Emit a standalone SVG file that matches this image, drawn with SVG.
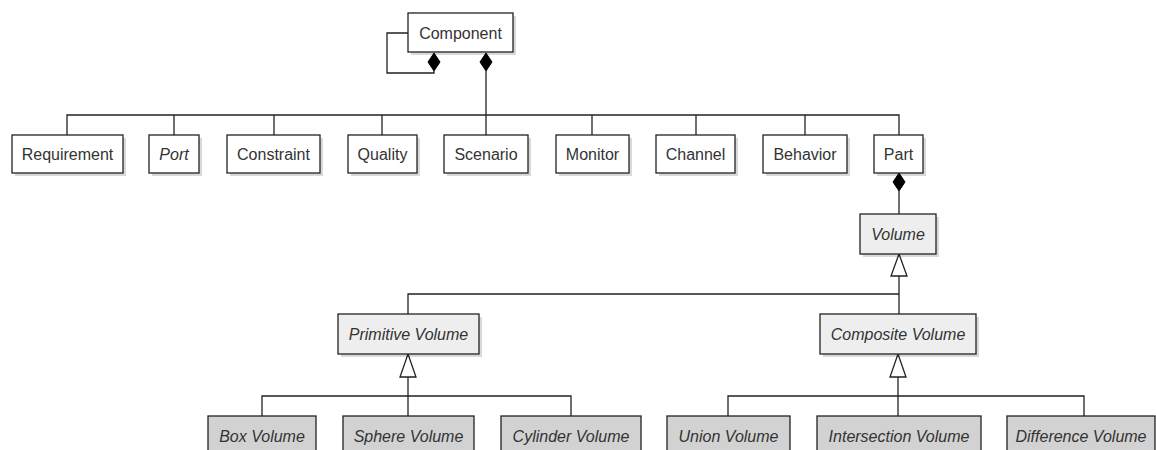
<svg xmlns="http://www.w3.org/2000/svg" width="1156" height="450" viewBox="0 0 1156 450">
  <style>
    .box { stroke: #222; stroke-width: 1.3; }
    .plain { fill: #ffffff; }
    .abstract { fill: #eeeeee; }
    .leaf { fill: #d2d2d2; }
    .shadow { fill: #000; opacity: 0.15; }
    text { font-family: "Liberation Sans", Arial, sans-serif; font-size: 16px; fill: #333; text-anchor: middle; dominant-baseline: central; }
    .it { font-style: italic; }
    .edge { fill: none; stroke: #222; stroke-width: 1.3; }
    .diamond { fill: #000; stroke: #000; stroke-width: 1; }
    .tri { fill: #fff; stroke: #222; stroke-width: 1.3; }
  </style>
  <rect width="1156" height="450" fill="#ffffff"/>

  <!-- connectors -->
  <g id="connectors">
    <!-- self composition on Component -->
    <polyline class="edge" points="408,33 387,33 387,73 434,73 434,71"/>
    <!-- Component composition bus -->
    <line class="edge" x1="486" y1="71" x2="486" y2="115"/>
    <polyline class="edge" points="67,135 67,115 899,115 899,135"/>
    <line class="edge" x1="174" y1="115" x2="174" y2="135"/>
    <line class="edge" x1="274" y1="115" x2="274" y2="135"/>
    <line class="edge" x1="382" y1="115" x2="382" y2="135"/>
    <line class="edge" x1="486" y1="115" x2="486" y2="135"/>
    <line class="edge" x1="592" y1="115" x2="592" y2="135"/>
    <line class="edge" x1="696" y1="115" x2="696" y2="135"/>
    <line class="edge" x1="805" y1="115" x2="805" y2="135"/>
    <!-- Part to Volume -->
    <line class="edge" x1="899" y1="191" x2="899" y2="214"/>
    <!-- Volume generalization -->
    <line class="edge" x1="899" y1="276" x2="899" y2="314"/>
    <polyline class="edge" points="408,314 408,294 899,294"/>
    <!-- Primitive Volume generalization -->
    <line class="edge" x1="408" y1="377" x2="408" y2="416"/>
    <polyline class="edge" points="262,416 262,396 571,396 571,416"/>
    <!-- Composite Volume generalization -->
    <line class="edge" x1="898" y1="377" x2="898" y2="416"/>
    <polyline class="edge" points="728,416 728,396 1084,396 1084,416"/>

    <!-- composition diamonds -->
    <polygon class="diamond" points="434,53 440,62 434,71 428,62"/>
    <polygon class="diamond" points="486,53 492,62 486,71 480,62"/>
    <polygon class="diamond" points="899,173 905,182 899,191 893,182"/>
    <!-- generalization triangles -->
    <polygon class="tri" points="899,254 907,276 891,276"/>
    <polygon class="tri" points="408,354 416,377 400,377"/>
    <polygon class="tri" points="898,354 906,377 890,377"/>
  </g>

  <!-- nodes -->
  <g id="component">
    <rect class="shadow" x="411" y="16" width="105" height="39"/>
    <rect class="box plain" x="408" y="13" width="105" height="39"/>
    <text x="460.5" y="33">Component</text>
  </g>
  <g id="requirement">
    <rect class="shadow" x="15" y="138" width="111" height="38"/>
    <rect class="box plain" x="12" y="135" width="111" height="38"/>
    <text x="67.5" y="154">Requirement</text>
  </g>
  <g id="port">
    <rect class="shadow" x="152" y="138" width="50" height="38"/>
    <rect class="box plain" x="149" y="135" width="50" height="38"/>
    <text class="it" x="174" y="154">Port</text>
  </g>
  <g id="constraint">
    <rect class="shadow" x="230" y="138" width="93" height="38"/>
    <rect class="box plain" x="227" y="135" width="93" height="38"/>
    <text x="273.5" y="154">Constraint</text>
  </g>
  <g id="quality">
    <rect class="shadow" x="351" y="138" width="69" height="38"/>
    <rect class="box plain" x="348" y="135" width="69" height="38"/>
    <text x="382.5" y="154">Quality</text>
  </g>
  <g id="scenario">
    <rect class="shadow" x="447" y="138" width="84" height="38"/>
    <rect class="box plain" x="444" y="135" width="84" height="38"/>
    <text x="486" y="154">Scenario</text>
  </g>
  <g id="monitor">
    <rect class="shadow" x="559" y="138" width="73" height="38"/>
    <rect class="box plain" x="556" y="135" width="73" height="38"/>
    <text x="592.5" y="154">Monitor</text>
  </g>
  <g id="channel">
    <rect class="shadow" x="659" y="138" width="79" height="38"/>
    <rect class="box plain" x="656" y="135" width="79" height="38"/>
    <text x="695.5" y="154">Channel</text>
  </g>
  <g id="behavior">
    <rect class="shadow" x="766" y="138" width="84" height="38"/>
    <rect class="box plain" x="763" y="135" width="84" height="38"/>
    <text x="805" y="154">Behavior</text>
  </g>
  <g id="part">
    <rect class="shadow" x="877" y="138" width="49" height="38"/>
    <rect class="box plain" x="874" y="135" width="49" height="38"/>
    <text x="898.5" y="154">Part</text>
  </g>
  <g id="volume">
    <rect class="shadow" x="863" y="217" width="76" height="40"/>
    <rect class="box abstract" x="860" y="214" width="76" height="40"/>
    <text class="it" x="898" y="234">Volume</text>
  </g>
  <g id="primitive-volume">
    <rect class="shadow" x="341" y="317" width="141" height="40"/>
    <rect class="box abstract" x="338" y="314" width="141" height="40"/>
    <text class="it" x="408.5" y="334">Primitive Volume</text>
  </g>
  <g id="composite-volume">
    <rect class="shadow" x="823" y="317" width="156" height="40"/>
    <rect class="box abstract" x="820" y="314" width="156" height="40"/>
    <text class="it" x="898" y="334">Composite Volume</text>
  </g>
  <g id="box-volume">
    <rect class="box leaf" x="208" y="416" width="108" height="40"/>
    <text class="it" x="262" y="436">Box Volume</text>
  </g>
  <g id="sphere-volume">
    <rect class="box leaf" x="343" y="416" width="131" height="40"/>
    <text class="it" x="408.5" y="436">Sphere Volume</text>
  </g>
  <g id="cylinder-volume">
    <rect class="box leaf" x="501" y="416" width="140" height="40"/>
    <text class="it" x="571" y="436">Cylinder Volume</text>
  </g>
  <g id="union-volume">
    <rect class="box leaf" x="667" y="416" width="123" height="40"/>
    <text class="it" x="728.5" y="436">Union Volume</text>
  </g>
  <g id="intersection-volume">
    <rect class="box leaf" x="817" y="416" width="164" height="40"/>
    <text class="it" x="899" y="436">Intersection Volume</text>
  </g>
  <g id="difference-volume">
    <rect class="box leaf" x="1007" y="416" width="148" height="40"/>
    <text class="it" x="1081" y="436">Difference Volume</text>
  </g>
</svg>
